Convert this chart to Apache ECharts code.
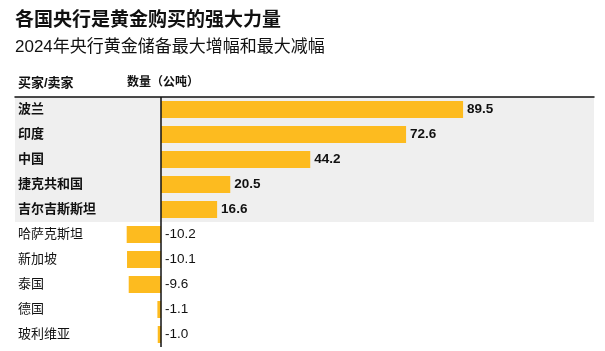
<!DOCTYPE html>
<html><head><meta charset="utf-8">
<script src="https://cdn.jsdelivr.net/npm/echarts@6/dist/echarts.min.js"></script>
<style>html,body{margin:0;padding:0;background:#fff}#c{width:605px;height:351px}</style>
</head><body><div id="c"></div>
<script>
const categories = ['波兰','印度','中国','捷克共和国','吉尔吉斯斯坦','哈萨克斯坦','新加坡','泰国','德国','玻利维亚'];
const values = [89.5, 72.6, 44.2, 20.5, 16.6, -10.2, -10.1, -9.6, -1.1, -1.0];
const buyerCount = 5;
const titleText = '各国央行是黄金购买的强大力量';
const subtitleText = '2024年央行黄金储备最大增幅和最大减幅';
const headerLeft = '买家/卖家';
const headerRight = '数量（公吨）';

const FONT = '"Liberation Sans", "Noto Sans CJK SC", sans-serif';
const chart = echarts.init(document.getElementById('c'), null, {renderer:'canvas'});
const bandColors = categories.map((c,i)=> i < buyerCount ? '#efefef' : '#ffffff');

chart.setOption({
  backgroundColor: '#fff',
  animation: false,
  textStyle: {fontFamily: FONT},
  title: [
    {text: titleText, left: 15, top: 11, padding: 0, textStyle:{fontFamily: FONT, fontSize: 19, fontWeight:'bold', color:'#111'}},
    {text: subtitleText, left: 15, top: 39, padding: 0, textStyle:{fontFamily: FONT, fontSize: 17, fontWeight:'normal', color:'#111'}},
    {text: headerLeft, left: 18, top: 77, padding: 0, textStyle:{fontFamily: FONT, fontSize: 13, fontWeight:'bold', color:'#111'}},
    {text: headerRight, left: 127, top: 77, padding: 0, textStyle:{fontFamily: FONT, fontSize: 12, fontWeight:'bold', color:'#111'}}
  ],
  grid: {left: 15, right: 11, top: 97, height: 250},
  xAxis: {
    type: 'value', min: -43.3, max: 128.3, position: 'top',
    axisLine: {show: true, onZero: false, lineStyle: {color:'#111', width: 1.5}},
    axisTick: {show:false}, axisLabel: {show:false}, splitLine: {show:false}
  },
  yAxis: {
    type: 'category', data: categories, inverse: true,
    axisLine: {show:false}, axisTick: {show:false},
    splitArea: {show: true, interval: 0, areaStyle: {color: bandColors}},
    axisLabel: {
      inside: true, margin: 3, interval: 0, fontFamily: FONT, fontSize: 13, color:'#111',
      formatter: (v) => categories.indexOf(v) < buyerCount ? '{b|'+v+'}' : '{n|'+v+'}',
      rich: {b:{fontWeight:'bold', fontSize:13, fontFamily: FONT, color:'#111'}, n:{fontWeight:'normal', fontSize:13, fontFamily: FONT, color:'#111'}}
    }
  },
  series: [{
    type: 'bar', data: values, barWidth: 17,
    itemStyle: {color: '#FDBB1F'},
    label: {
      show: true, position: 'right', distance: 4, fontFamily: FONT, fontSize: 13.5, color:'#111',
      formatter: (p) => p.dataIndex < buyerCount ? '{b|'+p.value.toFixed(1)+'}' : '{n|'+p.value.toFixed(1)+'}',
      rich: {b:{fontWeight:'bold', fontSize:13.5, fontFamily: FONT, color:'#111'}, n:{fontWeight:'normal', fontSize:13.5, fontFamily: FONT, color:'#111'}}
    },
    markLine: {
      silent: true, symbol: 'none', label: {show:false},
      lineStyle: {color:'#111', width: 1.5, type:'solid'},
      data: [{xAxis: 0}]
    }
  }]
});
</script></body></html>
